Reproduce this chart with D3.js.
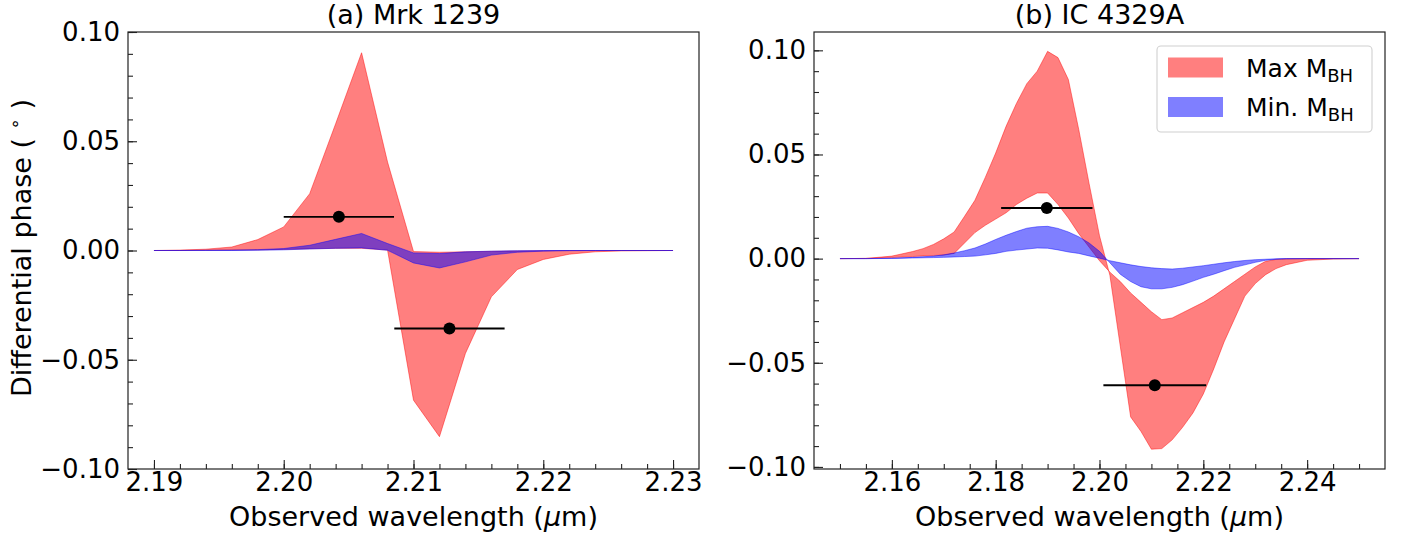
<!DOCTYPE html>
<html>
<head>
<meta charset="utf-8">
<script src="https://cdn.jsdelivr.net/npm/d3@7"></script>
<style>
  body { margin: 0; background: white; }
  text { font-family: "DejaVu Sans", sans-serif; }
</style>
</head>
<body>
<div id="chart-container"></div>
<script>
// (a) Mrk 1239
const wavelengthA = [2.190, 2.192, 2.194, 2.196, 2.198, 2.200, 2.202, 2.204, 2.206, 2.208, 2.210,
    2.212, 2.214, 2.216, 2.218, 2.220, 2.222, 2.224, 2.226, 2.228, 2.230];
const maxUpperA = [0, 0.0002, 0.0006, 0.0016, 0.0050, 0.0108, 0.0260, 0.0580, 0.0905, 0.0405, -0.0005,
    -0.0008, -0.0006, -0.0004, -0.0002, -0.0001, 0, 0, 0, 0, 0];
const maxLowerA = [0, 0, 0.0001, 0.0002, 0.0003, 0.0005, 0.0008, 0.0010, 0.0010, 0.0002, -0.0685,
    -0.0852, -0.0471, -0.0212, -0.0087, -0.0041, -0.0017, -0.0006, -0.0002, -0.0001, 0];
const minUpperA = [0, 0, 0.0001, 0.0002, 0.0004, 0.0009, 0.0024, 0.0051, 0.0078, 0.0032, -0.0011,
    -0.0014, -0.0006, -0.0003, -0.0001, 0, 0, 0, 0, 0, 0];
const minLowerA = [0, 0, 0, 0, 0.0001, 0.0003, 0.0007, 0.0010, 0.0012, 0.0001, -0.0057,
    -0.0080, -0.0052, -0.0021, -0.0008, -0.0003, -0.0001, 0, 0, 0, 0];
const obsA = [
    { x: 2.20425, y: 0.0154, xerr: 0.00425 },
    { x: 2.21277, y: -0.0357, xerr: 0.00425 }
];

// (b) IC 4329A
const wavelengthB = [2.150, 2.155, 2.160, 2.164, 2.166, 2.168, 2.170, 2.172, 2.174, 2.176, 2.178,
    2.180, 2.182, 2.184, 2.186, 2.188, 2.190, 2.192, 2.194, 2.196, 2.198, 2.200, 2.202, 2.204,
    2.206, 2.208, 2.210, 2.212, 2.214, 2.216, 2.218, 2.220, 2.222, 2.224, 2.226, 2.228, 2.230,
    2.232, 2.234, 2.236, 2.240, 2.245, 2.250];
const maxUpperB = [0, 0.0001, 0.0012, 0.0034, 0.0048, 0.0068, 0.0095, 0.0128, 0.0203, 0.0280, 0.0390,
    0.0507, 0.0635, 0.0745, 0.0840, 0.0900, 0.0995, 0.0965, 0.0860, 0.0620, 0.0360, 0.0110, -0.0080,
    -0.0420, -0.0760, -0.0830, -0.0915, -0.0912, -0.0870, -0.0810, -0.0741, -0.0650, -0.0530, -0.0400,
    -0.0290, -0.0180, -0.0120, -0.0077, -0.0048, -0.0029, -0.0008, -0.0002, 0];
const maxLowerB = [0, 0.0001, 0.0005, 0.0010, 0.0013, 0.0015, 0.0017, 0.0025, 0.0075, 0.0125, 0.0160,
    0.0190, 0.0220, 0.0260, 0.0290, 0.0315, 0.0315, 0.0260, 0.0195, 0.0120, 0.0055, -0.0010, -0.0065,
    -0.0110, -0.0165, -0.0210, -0.0255, -0.0293, -0.0285, -0.0260, -0.0235, -0.0210, -0.0180, -0.0145,
    -0.0110, -0.0075, -0.0040, -0.0013, -0.0004, -0.0001, 0, 0, 0];
const minUpperB = [0, 0, 0.0002, 0.0006, 0.0009, 0.0012, 0.0018, 0.0027, 0.0038, 0.0051, 0.0070,
    0.0092, 0.0112, 0.0130, 0.0146, 0.0153, 0.0155, 0.0145, 0.0128, 0.0105, 0.0075, 0.0035, -0.0020,
    -0.0075, -0.0110, -0.0135, -0.0145, -0.0145, -0.0138, -0.0125, -0.0108, -0.0090, -0.0075, -0.0058,
    -0.0042, -0.0030, -0.0018, -0.0008, -0.0003, -0.0001, 0, 0, 0];
const minLowerB = [0, 0, 0.0001, 0.0003, 0.0004, 0.0005, 0.0006, 0.0008, 0.0010, 0.0012, 0.0018,
    0.0025, 0.0035, 0.0041, 0.0046, 0.0051, 0.0050, 0.0042, 0.0032, 0.0025, 0.0013, 0.0002, -0.0010,
    -0.0020, -0.0030, -0.0038, -0.0044, -0.0048, -0.0050, -0.0046, -0.0040, -0.0034, -0.0027, -0.0020,
    -0.0014, -0.0009, -0.0005, -0.0003, -0.0001, 0, 0, 0, 0];
const obsB = [
    { x: 2.18985, y: 0.0243, xerr: 0.0088 },
    { x: 2.21065, y: -0.0608, xerr: 0.0099 }
];

const yTicks = [-0.10, -0.05, 0.00, 0.05, 0.10];
const xTicksA = [2.19, 2.20, 2.21, 2.22, 2.23];
const xTicksB = [2.16, 2.18, 2.20, 2.22, 2.24];
const legendItems = [
    { color: "red", label: "Max M", sub: "BH" },
    { color: "blue", label: "Min. M", sub: "BH" }
];

const svgWidth = 1405;
const svgHeight = 535;
const tickFont = 26;
const labelFont = 27;

const svg = d3.select("#chart-container")
    .append("svg")
    .attr("width", svgWidth)
    .attr("height", svgHeight);

function drawPanel(opts) {
    const { left, right, top, bottom } = opts;

    const x = d3.scaleLinear().domain(opts.xDomain).range([left, right]);
    const y = d3.scaleLinear().domain(opts.yDomain).range([bottom, top]);

    const g = svg.append("g");

    // bands: max M_BH first, min M_BH on top (edge drawn like fill_between)
    const bands = [
        { upper: opts.maxUpper, lower: opts.maxLower, color: "red" },
        { upper: opts.minUpper, lower: opts.minLower, color: "blue" }
    ];
    bands.forEach(b => {
        const area = d3.area()
            .x((d, i) => x(opts.wavelength[i]))
            .y0((d, i) => y(b.lower[i]))
            .y1((d, i) => y(b.upper[i]));
        g.append("path")
            .datum(b.upper)
            .attr("d", area)
            .attr("fill", b.color)
            .attr("fill-opacity", 0.5)
            .attr("stroke", b.color)
            .attr("stroke-opacity", 0.5)
            .attr("stroke-width", 0.9)
            .attr("stroke-linejoin", "round");
    });

    // observed points with x error bars
    g.selectAll("line.err")
        .data(opts.obs)
        .enter()
        .append("line")
        .attr("x1", d => x(d.x - d.xerr))
        .attr("x2", d => x(d.x + d.xerr))
        .attr("y1", d => y(d.y))
        .attr("y2", d => y(d.y))
        .attr("stroke", "black")
        .attr("stroke-width", 1.8);

    g.selectAll("circle.obs")
        .data(opts.obs)
        .enter()
        .append("circle")
        .attr("cx", d => x(d.x))
        .attr("cy", d => y(d.y))
        .attr("r", 6)
        .attr("fill", "black");

    // minor ticks
    g.append("g")
        .attr("transform", `translate(0, ${bottom})`)
        .call(d3.axisBottom(x).tickValues(d3.range(opts.xMinor[0], opts.xMinor[1] + 1e-9, opts.xMinor[2])).tickSize(-5).tickFormat(""))
        .call(a => a.select(".domain").remove());
    g.append("g")
        .attr("transform", `translate(${left}, 0)`)
        .call(d3.axisLeft(y).tickValues(d3.range(-0.10, 0.1 + 1e-9, 0.01)).tickSize(-5).tickFormat(""))
        .call(a => a.select(".domain").remove());

    // major ticks
    const xAxis = g.append("g")
        .attr("transform", `translate(0, ${bottom})`)
        .call(d3.axisBottom(x).tickValues(opts.xTicks).tickSize(-9).tickPadding(4).tickFormat(d3.format(".2f")));
    xAxis.select(".domain").remove();
    xAxis.selectAll(".tick text")
        .attr("font-size", tickFont)
        .attr("font-family", "DejaVu Sans")
        .attr("fill", "black");

    const yAxis = g.append("g")
        .attr("transform", `translate(${left}, 0)`)
        .call(d3.axisLeft(y).tickValues(yTicks).tickSize(-9).tickPadding(8).tickFormat(d3.format(".2f")));
    yAxis.select(".domain").remove();
    yAxis.selectAll(".tick text")
        .attr("font-size", tickFont)
        .attr("font-family", "DejaVu Sans")
        .attr("fill", "black");

    g.selectAll(".tick line").attr("stroke", "#222").attr("stroke-width", 1.1);

    // frame
    g.append("rect")
        .attr("x", left)
        .attr("y", top)
        .attr("width", right - left)
        .attr("height", bottom - top)
        .attr("fill", "none")
        .attr("stroke", "#222")
        .attr("stroke-width", 1.2);

    // title
    g.append("text")
        .attr("x", (left + right) / 2)
        .attr("y", top - 8)
        .attr("text-anchor", "middle")
        .attr("font-size", labelFont)
        .text(opts.title);

    // x label
    const xl = g.append("text")
        .attr("x", (left + right) / 2)
        .attr("y", 526)
        .attr("text-anchor", "middle")
        .attr("font-size", labelFont);
    xl.append("tspan").text("Observed wavelength (");
    xl.append("tspan").attr("font-style", "italic").text("μ");
    xl.append("tspan").text("m)");

    return { x, y, g };
}

const panelA = drawPanel({
    left: 128, right: 699, top: 32, bottom: 469,
    xDomain: [2.188, 2.232], yDomain: [-0.1, 0.1],
    xTicks: xTicksA, xMinor: [2.19, 2.23, 0.002],
    wavelength: wavelengthA,
    maxUpper: maxUpperA, maxLower: maxLowerA,
    minUpper: minUpperA, minLower: minLowerA,
    obs: obsA,
    title: "(a) Mrk 1239"
});

const panelB = drawPanel({
    left: 814, right: 1385, top: 32, bottom: 469,
    xDomain: [2.145, 2.255], yDomain: [-0.101, 0.1088],
    xTicks: xTicksB, xMinor: [2.15, 2.25, 0.005],
    wavelength: wavelengthB,
    maxUpper: maxUpperB, maxLower: maxLowerB,
    minUpper: minUpperB, minLower: minLowerB,
    obs: obsB,
    title: "(b) IC 4329A"
});

// y label (left panel only)
const yl = svg.append("text")
    .attr("transform", "rotate(-90)")
    .attr("x", -248)
    .attr("y", 31)
    .attr("text-anchor", "middle")
    .attr("font-size", labelFont);
yl.append("tspan").text("Differential phase ( ");
yl.append("tspan").attr("font-size", 18).attr("dy", -10).text("∘");
yl.append("tspan").attr("dy", 10).text(" )");

// legend
function drawLegend() {
    const lx = 1157, ly = 46;
    svg.append("rect")
        .attr("x", lx)
        .attr("y", ly)
        .attr("width", 215)
        .attr("height", 86)
        .attr("rx", 4)
        .attr("fill", "white")
        .attr("fill-opacity", 0.8)
        .attr("stroke", "#d0d0d0")
        .attr("stroke-width", 1.1);

    legendItems.forEach((item, i) => {
        const yc = ly + 21.5 + i * 39.5;
        svg.append("rect")
            .attr("x", lx + 11)
            .attr("y", yc - 10)
            .attr("width", 55)
            .attr("height", 20)
            .attr("fill", item.color)
            .attr("fill-opacity", 0.5);
        const t = svg.append("text")
            .attr("x", lx + 89)
            .attr("y", yc + 9)
            .attr("font-size", 25);
        t.append("tspan").text(item.label);
        t.append("tspan").attr("font-size", 18).attr("dy", 5).text(item.sub);
    });
}

drawLegend();
</script>
</body>
</html>
